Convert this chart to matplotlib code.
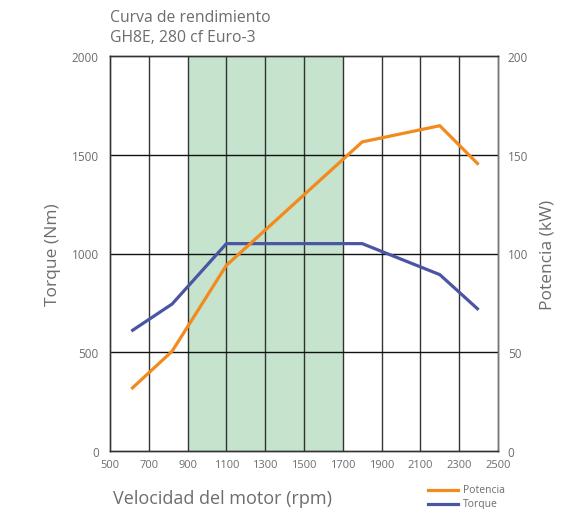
import matplotlib
matplotlib.use("Agg")
import matplotlib.pyplot as plt
from matplotlib.lines import Line2D

plt.rcParams['font.family'] = ['Open Sans', 'DejaVu Sans']

title_lines = ["Curva de rendimiento", "GH8E, 280 cf Euro-3"]
torque_rpm = [610, 820, 1100, 1800, 2200, 2400]
torque_nm = [607, 744, 1050, 1050, 893, 715]
power_rpm = [610, 820, 1100, 1800, 2200, 2400]
power_kw = [31.4, 50.5, 94, 156.5, 164.7, 145]
band = [900, 1700]
x_ticks = [500, 700, 900, 1100, 1300, 1500, 1700, 1900, 2100, 2300, 2500]
y_ticks = [0, 500, 1000, 1500, 2000]
y2_ticks = [0, 50, 100, 150, 200]

W, H = 564, 510
fig = plt.figure(figsize=(W/100, H/100), dpi=100)
ax = fig.add_axes([110/W, 1-452/H, (498-110)/W, (452-57)/H])
ax2 = ax.twinx()

gray = '#6d6d6d'
orange = '#F28A1E'
blue = '#4B55A5'

ax.axvspan(band[0], band[1], color='#C5E3CD', zorder=0, lw=0)
for x in x_ticks[1:-1]:
    ax.axvline(x, color='#333333', lw=1.0, zorder=1)
for y in y_ticks[1:-1]:
    ax.axhline(y, color='#111111', lw=1.0, zorder=1)

ax.plot(torque_rpm, torque_nm, color=blue, lw=2.3, zorder=3, solid_capstyle='butt')
ax2.plot(power_rpm, power_kw, color=orange, lw=2.3, zorder=3, solid_capstyle='butt')

ax.set_xlim(500, 2500)
ax.set_ylim(0, 2000)
ax2.set_ylim(0, 200)
ax.set_xticks(x_ticks)
ax.set_yticks(y_ticks)
ax2.set_yticks(y2_ticks)
ax.tick_params(axis='x', length=0, pad=6, labelsize=8, labelcolor=gray)
ax.tick_params(axis='y', length=0, pad=8, labelsize=8.5, labelcolor=gray)
ax2.tick_params(axis='y', length=0, pad=7, labelsize=8.5, labelcolor=gray)
for a in (ax, ax2):
    for s in a.spines.values():
        s.set_color('#333333')
        s.set_linewidth(1.0)
ax.spines['left'].set_color('#555555')
ax2.spines['right'].set_color('#777777')

ax.set_ylabel("Torque (Nm)", fontsize=12.5, color=gray, labelpad=8)
ax2.set_ylabel("Potencia (kW)", fontsize=12.5, color=gray, labelpad=8)
fig.text(113/W, 1-499/H, "Velocidad del motor (rpm)", fontsize=13, color=gray, va='center', ha='left')

fig.text(110/W, 1-18/H, title_lines[0], fontsize=11.3, color=gray, va='center', ha='left')
fig.text(110/W, 1-38/H, title_lines[1], fontsize=11.3, color=gray, va='center', ha='left')

fig.lines.append(Line2D([428/W, 458/W], [1-491/H, 1-491/H], color=orange, lw=2.3, transform=fig.transFigure))
fig.lines.append(Line2D([428/W, 458/W], [1-504.5/H, 1-504.5/H], color=blue, lw=2.3, transform=fig.transFigure))
fig.text(463/W, 1-491/H, "Potencia", fontsize=7.5, color=gray, va='center', ha='left')
fig.text(463/W, 1-504.5/H, "Torque", fontsize=7.5, color=gray, va='center', ha='left')

fig.savefig("out.png", dpi=100)
